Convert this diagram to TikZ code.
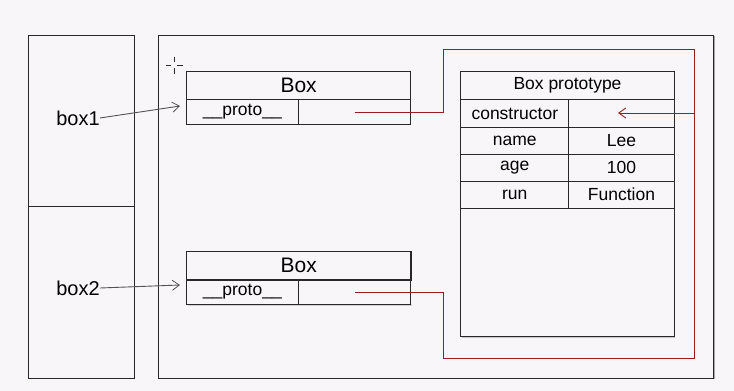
\documentclass[tikz,border=0pt]{standalone}
\usepackage{fontspec}
\setmainfont{Liberation Sans}
\usetikzlibrary{arrows.meta}
\definecolor{paper}{RGB}{248,246,249}
\definecolor{link}{RGB}{150,32,32}
\definecolor{ink}{RGB}{40,40,40}
\begin{document}
\begin{tikzpicture}[x=1pt,y=-1pt,
  frame/.style={draw=ink,line width=1pt,inner sep=0pt,anchor=north west},
  cell/.style={frame,font=\fontsize{17.5}{20}\selectfont},
  title/.style={frame,font=\fontsize{21}{24}\selectfont},
  varname/.style={inner sep=0pt,font=\fontsize{20}{24}\selectfont},
  ref/.style={draw=ink!80,line width=0.9pt,-{Straight Barb[length=7pt,width=10pt,line width=0.8pt]}},
  link/.style={draw=link,line width=1pt},
  linkarrow/.style={link,-{Straight Barb[length=7pt,width=10pt,line width=0.9pt]}}]

% page
\fill[paper] (0,0) rectangle (734,391);
\useasboundingbox (0,0) rectangle (734,391);

% variable stack
\node[frame,minimum width=105.4pt,minimum height=170.7pt] (slot1) at (28.3,35) {};
\node[frame,minimum width=105.4pt,minimum height=172.3pt] (slot2) at (28.3,205.7) {};
\node[varname] (v1) at (78,118) {box1};
\node[varname] (v2) at (78,288) {box2};

% heap
\fill[gray!70] (713.3,36) rectangle (715,379);
\node[frame,minimum width=555pt,minimum height=343pt] (heap) at (158.3,35) {};

% cursor mark
\draw[ink,line width=0.7pt] (166,65) -- (171,65) (177,65) -- (183,65)
  (174,57) -- (174,62) (174,68) -- (174,74);

% first Box instance
\node[title,minimum width=224.3pt,minimum height=28pt] (b1) at (186,70.7) {Box};
\node[cell,minimum width=111.7pt,minimum height=25.6pt] (b1key) at (186,98.7) {\_\_proto\_\_};
\node[cell,minimum width=112.6pt,minimum height=25.6pt] (b1val) at (297.7,98.7) {};

% second Box instance
\fill[gray!35] (187.5,304) rectangle (411.8,305.5);
\node[title,line width=1.2pt,minimum width=224.3pt,minimum height=28.3pt] (b2) at (186,251) {Box};
\node[cell,minimum width=111.7pt,minimum height=24.7pt] (b2key) at (186,279.3) {\_\_proto\_\_};
\node[cell,minimum width=112.6pt,minimum height=24.7pt] (b2val) at (297.7,279.3) {};

% prototype object
\fill[gray!45] (461.8,336) rectangle (675.2,337.5);
\node[cell,minimum width=213.4pt,minimum height=28.3pt] (proto) at (460.3,71) {Box prototype};
\node[cell,minimum width=108pt,minimum height=27.7pt] (k1) at (460.3,99.3) {constructor};
\node[cell,minimum width=105.4pt,minimum height=27.7pt] (c1) at (568.3,99.3) {};
\node[cell,minimum width=108pt,minimum height=26.7pt] (k2) at (460.3,127) {name};
\node[cell,minimum width=105.4pt,minimum height=26.7pt] (c2) at (568.3,127) {Lee};
\node[cell,minimum width=108pt,minimum height=27pt] (k3) at (460.3,153.7) {age};
\node[cell,minimum width=105.4pt,minimum height=27pt] (c3) at (568.3,153.7) {100};
\node[cell,minimum width=108pt,minimum height=27pt] (k4) at (460.3,180.7) {run};
\node[cell,minimum width=105.4pt,minimum height=27pt] (c4) at (568.3,180.7) {Function};
\node[frame,minimum width=213.4pt,minimum height=128.3pt] (rest) at (460.3,207.7) {};

% variables point at the instances
\coordinate (t1) at (180,106);
\coordinate (t2) at (180,285);
\draw[ref] (v1.east) -- (t1);
\draw[ref] (v2.east) -- (t2);

% both __proto__ links share one route to the prototype
\coordinate (ra) at (443,49);
\coordinate (rb) at (694,49);
\coordinate (rc) at (694,358);
\coordinate (rd) at (443,358);
\draw[link] (b1val.center) -| (ra) -- (rb) -- (rc) -- (rd) |- (b2val.center);
\coordinate (cin) at (618,113);
\draw[linkarrow] (rb |- cin) -- (cin);
\end{tikzpicture}
\end{document}
